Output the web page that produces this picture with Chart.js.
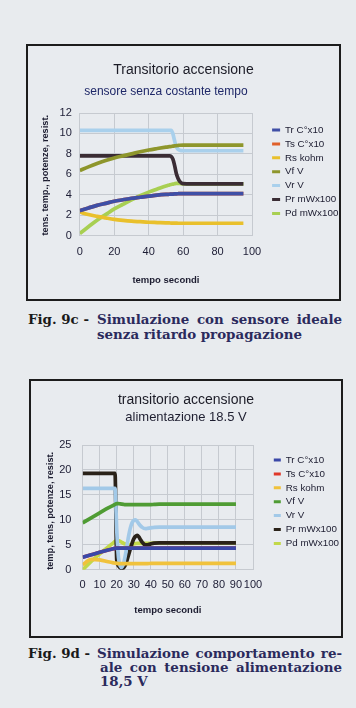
<!DOCTYPE html>
<html><head><meta charset="utf-8">
<script src="https://cdn.jsdelivr.net/npm/chart.js@4.4.1/dist/chart.umd.min.js"></script>
<style>
html,body{margin:0;padding:0;}
body{width:356px;height:708px;background:#e8ebee;position:relative;overflow:hidden;font-family:'Liberation Sans',Arial,sans-serif;}
.box{position:absolute;box-sizing:border-box;border:2px solid #1c1c1c;background:#e8ebef;}
.box canvas{display:block;}
.cap{position:absolute;font-family:'DejaVu Serif',serif;font-weight:bold;font-size:13.4px;line-height:15px;color:#2b2a5c;}
.j{text-align:justify;text-align-last:justify;}
.nw{white-space:nowrap;}
.fig{color:#1a1a1a;}
</style></head>
<body>
<div class="box" style="left:26px;top:44px;width:315px;height:257px;"><canvas id="c1" width="311" height="253"></canvas></div>
<div class="cap fig nw" style="left:28px;top:311.5px;">Fig. 9c -</div>
<div class="cap j" style="left:97px;top:311.5px;width:245px;">Simulazione con sensore ideale</div>
<div class="cap nw" style="left:97px;top:326.5px;">senza ritardo propagazione</div>

<div class="box" style="left:29px;top:379px;width:314px;height:259px;"><canvas id="c2" width="310" height="255"></canvas></div>
<div class="cap fig nw" style="left:28px;top:645.5px;">Fig. 9d -</div>
<div class="cap j" style="left:97px;top:645.5px;width:245px;">Simulazione comportamento re-</div>
<div class="cap j" style="left:100px;top:659.5px;width:242px;">ale con tensione alimentazione</div>
<div class="cap nw" style="left:100px;top:673.5px;">18,5 V</div>

<script>
// ---------- data ----------
const LABELS = ['Tr C°x10','Ts C°x10','Rs kohm','Vf V','Vr V','Pr mWx100','Pd mWx100'];

// Fig. 9c : sensore senza costante tempo
const time1 = [0,5,10,15,20,25,30,35,40,45,50,52,53,54,55,56,57,58,60,65,70,75,80,85,90,95];
const tr1 = [2.43,2.7,2.95,3.15,3.35,3.5,3.65,3.75,3.85,3.95,4.02,4.04,4.05,4.06,4.07,4.08,4.09,4.1,4.1,4.1,4.1,4.1,4.1,4.1,4.1,4.1];
const ts1 = [2.43,2.7,2.95,3.15,3.35,3.5,3.65,3.75,3.85,3.95,4.02,4.04,4.05,4.06,4.07,4.08,4.09,4.1,4.1,4.1,4.1,4.1,4.1,4.1,4.1,4.1];
const rs1 = [2.3,2.05,1.87,1.72,1.58,1.48,1.4,1.35,1.3,1.27,1.24,1.23,1.22,1.22,1.21,1.21,1.2,1.2,1.2,1.2,1.2,1.2,1.2,1.2,1.2,1.2];
const vf1 = [6.37,6.72,7.05,7.35,7.6,7.8,8.0,8.2,8.38,8.52,8.65,8.7,8.72,8.75,8.78,8.8,8.82,8.84,8.85,8.85,8.85,8.85,8.85,8.85,8.85,8.85];
const vr1 = [10.3,10.3,10.3,10.3,10.3,10.3,10.3,10.3,10.3,10.3,10.3,10.3,10.3,10.0,9.3,8.7,8.45,8.35,8.3,8.3,8.3,8.3,8.3,8.3,8.3,8.3];
const pr1 = [7.8,7.8,7.8,7.8,7.8,7.8,7.8,7.8,7.8,7.8,7.8,7.8,7.75,7.5,6.9,6.1,5.6,5.3,5.08,5.05,5.05,5.05,5.05,5.05,5.05,5.05];
const pd1 = [0.2,0.85,1.5,2.05,2.6,3.05,3.5,3.9,4.25,4.55,4.85,4.95,5.0,5.03,5.07,5.1,5.1,5.1,5.05,5.05,5.05,5.05,5.05,5.05,5.05,5.05];

// Fig. 9d : alimentazione 18.5 V
const time2 = [0,5,10,15,18,19,20,21,22,23,24,25,26,27,28,29,30,31,32,33,34,35,36,37,38,40,42,45,50,55,60,65,70,75,80,85,90];
const tr2 = [2.5,3.0,3.5,3.95,4.2,4.3,4.33,4.35,4.35,4.35,4.35,4.35,4.35,4.35,4.35,4.35,4.35,4.35,4.35,4.35,4.35,4.35,4.35,4.35,4.35,4.35,4.35,4.35,4.35,4.35,4.35,4.35,4.35,4.35,4.35,4.35,4.35];
const ts2 = [2.5,3.0,3.5,3.95,4.2,4.3,4.33,4.35,4.35,4.35,4.35,4.35,4.35,4.35,4.35,4.35,4.35,4.35,4.35,4.35,4.35,4.35,4.35,4.35,4.35,4.35,4.35,4.35,4.35,4.35,4.35,4.35,4.35,4.35,4.35,4.35,4.35];
const rs2 = [1.0,2.1,2.0,1.6,1.4,1.35,1.3,1.25,1.25,1.25,1.25,1.25,1.25,1.25,1.25,1.25,1.25,1.25,1.25,1.25,1.25,1.25,1.25,1.25,1.25,1.27,1.28,1.3,1.3,1.3,1.3,1.3,1.3,1.3,1.3,1.3,1.3];
const vf2 = [9.4,10.4,11.4,12.4,12.9,13.1,13.25,13.25,13.2,13.15,13.1,13.05,13.05,13.05,13.05,13.05,13.05,13.05,13.05,13.05,13.05,13.05,13.05,13.05,13.05,13.05,13.1,13.15,13.15,13.15,13.15,13.15,13.15,13.15,13.15,13.15,13.15];
const vr2 = [16.3,16.3,16.3,16.3,16.3,16.3,8.0,2.5,0.8,0.5,1.2,2.8,4.8,6.8,8.4,9.4,9.9,10.0,9.7,9.2,8.8,8.5,8.3,8.25,8.3,8.4,8.5,8.55,8.55,8.55,8.55,8.55,8.55,8.55,8.55,8.55,8.55];
const pr2 = [19.3,19.3,19.3,19.3,19.3,19.3,2.0,0.8,0.4,0.3,0.4,0.9,1.9,3.0,4.2,5.3,6.2,6.7,6.9,6.6,6.0,5.5,5.1,5.0,5.0,5.2,5.35,5.4,5.4,5.4,5.4,5.4,5.4,5.4,5.4,5.4,5.4];
const pd2 = [0.0,1.7,3.2,4.6,5.4,5.7,5.85,5.85,5.7,5.5,5.3,5.15,5.05,5.0,5.05,5.1,5.2,5.25,5.3,5.3,5.3,5.3,5.3,5.3,5.3,5.3,5.35,5.4,5.4,5.4,5.4,5.4,5.4,5.4,5.4,5.4,5.4];

const xTicks1 = {min:0, max:100, step:20};
const yTicks1 = {min:0, max:12, step:2};
const xTicks2 = {min:0, max:100, step:10};
const yTicks2 = {min:0, max:25, step:5};

const colors1 = ['#3f4fa6','#e0602a','#e9c02c','#8e962c','#a9d0ec','#3a2c34','#a8cf52'];
const colors2 = ['#3a48a8','#e0382a','#f0c23c','#4f9c34','#a2c9e8','#2a2219','#c2d84a'];

Chart.defaults.font.family = "'Liberation Sans', Arial, sans-serif";

function build(id, t, series, colors, xT, yT, o) {
  const datasets = series.map((vals, i) => ({
    label: LABELS[i],
    data: t.map((x, k) => ({x: x, y: vals[k]})),
    borderColor: colors[i], backgroundColor: colors[i],
    borderWidth: 3.7, pointRadius: 0, cubicInterpolationMode: 'monotone', fill: false
  }));
  const gridC = '#c6cad0';
  return new Chart(document.getElementById(id), {
    type: 'line',
    data: {datasets},
    options: {
      responsive: false, animation: false, devicePixelRatio: 1,
      layout: {padding: {top: o.padTop, bottom: o.padBottom, left: 0, right: 0}},
      plugins: {
        title: {display: true, text: o.title, font: {size: 14, weight: 'normal'}, color: '#1b1b26',
                padding: {top: o.titlePadTop, bottom: 0}},
        subtitle: {display: true, text: o.subtitle, font: {size: o.subSize}, color: o.subColor,
                   fullSize: o.subFull, padding: {top: o.subPadTop, bottom: o.subPadBottom}},
        legend: {position: 'right', align: 'center', maxWidth: o.legendMax,
          labels: {font: {size: 9.8}, color: '#1c1c30', boxWidth: o.boxW, boxHeight: 3, padding: 4.1,
            generateLabels: (chart) => Chart.defaults.plugins.legend.labels.generateLabels(chart)
              .map(it => Object.assign(it, {lineWidth: 0, fillStyle: it.strokeStyle}))}},
        tooltip: {enabled: false}
      },
      scales: {
        x: {type: 'linear', min: xT.min, max: xT.max,
            ticks: {stepSize: xT.step, autoSkip: false, maxRotation: 0, minRotation: 0,
                    padding: o.xTickPad, font: {size: 11}, color: '#1c1c34'},
            grid: {color: gridC, drawTicks: false}, border: {color: gridC},
            title: {display: true, text: 'tempo secondi', font: {size: 9.5, weight: 'bold'}, color: '#1c1c30',
                    padding: {top: o.xTitlePadTop, bottom: o.xTitlePadBottom}}},
        y: {type: 'linear', min: yT.min, max: yT.max,
            ticks: {stepSize: yT.step, padding: o.yTickPad, font: {size: 11}, color: '#1c1c34'},
            grid: {color: gridC, drawTicks: false}, border: {color: gridC},
            title: {display: true, text: o.yTitle, align: 'start', font: {size: 9.2, weight: 'bold'}, color: '#1c1c30',
                    padding: {top: o.yTitlePadTop, bottom: o.yTitlePadBottom}}},
        gap: {axis: 'y', type: 'linear', position: 'right', display: true,
              grid: {display: false}, ticks: {display: false}, border: {display: false},
              afterFit: (s) => { s.width = o.gap; }}
      }
    }
  });
}

build('c1', time1, [tr1, ts1, rs1, vf1, vr1, pr1, pd1], colors1, xTicks1, yTicks1, {
  title: 'Transitorio accensione', subtitle: 'sensore senza costante tempo', subSize: 12, subColor: '#1f2868', subFull: false,
  padTop: 7, padBottom: 8.6, titlePadTop: 8.6, subPadTop: 6.4, subPadBottom: 13.8,
  legendMax: 71, gap: 16, boxW: 8,
  xTickPad: 9.5, xTitlePadTop: 6.6, xTitlePadBottom: 4.7,
  yTitle: 'tens. temp., potenze, resist.', yTickPad: 8, yTitlePadTop: 11.5, yTitlePadBottom: 7.3
});

build('c2', time2, [tr2, ts2, rs2, vf2, vr2, pr2, pd2], colors2, xTicks2, yTicks2, {
  title: 'transitorio accensione', subtitle: 'alimentazione 18.5 V', subSize: 13, subColor: '#1e1e30', subFull: true,
  padTop: 0, padBottom: 13.6, titlePadTop: 10.6, subPadTop: 0.8, subPadBottom: 20.2,
  legendMax: 71.3, gap: 16.7, boxW: 7,
  xTickPad: 8.5, xTitlePadTop: 4.3, xTitlePadBottom: 6.7,
  yTitle: 'temp, tens, potenze, resist.', yTickPad: 11.3, yTitlePadTop: 13.5, yTitlePadBottom: 0
});
</script>
</body></html>
